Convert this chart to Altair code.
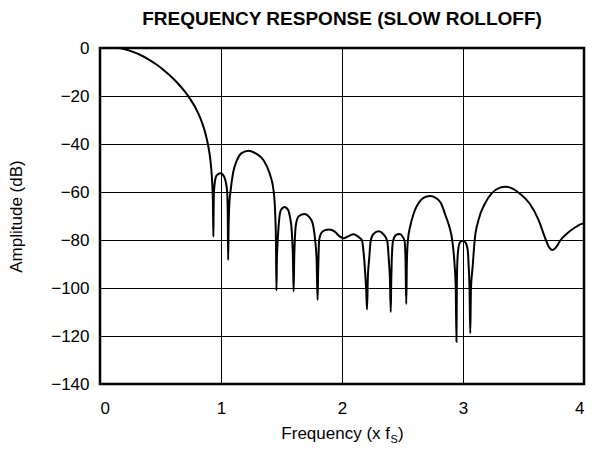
import altair as alt
import pandas as pd

# Frequency (x fS) and amplitude (dB)
freq = [
    0.00, 0.10, 0.15, 0.20, 0.26, 0.33, 0.40, 0.47, 0.54, 0.60, 0.65, 0.70, 0.75, 0.79, 0.83, 0.86, 0.885, 0.905, 0.918, 0.927, 0.933, 0.937,
    0.939, 0.942, 0.950, 0.965, 0.996, 1.025, 1.040, 1.051, 1.056, 1.059,
    1.063, 1.070, 1.078, 1.100, 1.132, 1.170, 1.228, 1.290, 1.350, 1.400, 1.436, 1.447, 1.454, 1.458,
    1.462, 1.469, 1.478, 1.495, 1.526, 1.555, 1.572, 1.581, 1.589, 1.595, 1.600,
    1.605, 1.610, 1.621, 1.645, 1.689, 1.730, 1.757, 1.778, 1.790, 1.798,
    1.803, 1.806, 1.811, 1.830, 1.860, 1.893, 1.940, 1.980, 2.015, 2.050, 2.096, 2.130, 2.164, 2.180, 2.192, 2.201, 2.207,
    2.214, 2.224, 2.237, 2.260, 2.303, 2.340, 2.374, 2.387, 2.396, 2.403,
    2.407, 2.411, 2.422, 2.445, 2.477, 2.500, 2.517, 2.525, 2.531,
    2.536, 2.544, 2.565, 2.593, 2.653, 2.700, 2.729, 2.770, 2.816, 2.857, 2.890, 2.911, 2.930, 2.940, 2.946,
    2.949, 2.952, 2.960, 2.975, 3.000, 3.020, 3.039, 3.047, 3.054, 3.060,
    3.066, 3.080, 3.096, 3.128, 3.183, 3.237, 3.300, 3.354, 3.410, 3.468, 3.549, 3.625, 3.685, 3.715, 3.740,
    3.770, 3.807, 3.862, 3.929, 3.970, 4.000,
]
amp = [
    0.0, 0.0, 0.0, -0.4, -1.4, -2.8, -4.7, -7.0, -9.8, -12.5, -15.1, -18.1, -21.6, -25.0, -29.3, -33.6, -38.5, -43.9, -49.5, -56.0, -64.0, -78.6,
    -68.0, -60.0, -55.5, -53.0, -52.2, -53.5, -56.0, -60.0, -70.0, -88.3,
    -74.0, -64.0, -60.0, -52.0, -46.7, -43.8, -42.8, -44.0, -46.7, -52.0, -60.0, -68.0, -80.0, -101.0,
    -88.0, -80.0, -73.0, -67.5, -66.2, -67.5, -71.0, -74.0, -80.0, -88.0, -101.5,
    -88.0, -80.0, -73.0, -70.0, -69.2, -70.5, -73.0, -80.0, -88.0, -105.0,
    -93.0, -87.0, -80.0, -77.0, -75.9, -75.6, -76.5, -78.5, -79.3, -78.5, -77.6, -78.5, -80.0, -86.0, -94.0, -102.0, -109.0,
    -95.0, -88.3, -80.4, -77.5, -76.4, -77.5, -80.4, -88.3, -96.0, -110.0,
    -97.0, -88.3, -80.4, -78.0, -77.5, -78.5, -80.4, -88.3, -106.7,
    -90.0, -80.4, -74.0, -68.9, -63.3, -61.9, -61.7, -62.3, -64.5, -70.0, -75.0, -80.0, -90.0, -100.0, -122.4,
    -100.0, -91.0, -84.2, -81.0, -80.3, -81.0, -84.2, -91.0, -100.0, -118.9,
    -100.0, -91.0, -80.3, -71.7, -64.7, -60.6, -58.3, -57.8, -58.6, -60.6, -64.7, -71.7, -80.0, -83.3, -84.2,
    -83.0, -80.0, -77.2, -74.7, -73.5, -73.0,
]

x_ticks = [0, 1, 2, 3, 4]
y_ticks = [-140, -120, -100, -80, -60, -40, -20, 0]

df = pd.DataFrame({"freq": freq, "amp": amp})

FONT = "Liberation Sans"
W, H = 484, 336

line = alt.Chart(df).mark_line(
    color="black", strokeWidth=2, interpolate="monotone", clip=True
).encode(
    x=alt.X(
        "freq:Q",
        scale=alt.Scale(domain=[0, 4], nice=False, zero=False),
        axis=alt.Axis(values=x_ticks, format="d", title=None, labelPadding=16),
    ),
    y=alt.Y(
        "amp:Q",
        scale=alt.Scale(domain=[-140, 0], nice=False),
        axis=alt.Axis(
            values=y_ticks, format="d", title="Amplitude (dB)", labelPadding=11,
            titleX=-84, titleY=H / 2, titleAngle=-90, titleAlign="center", titleBaseline="middle",
        ),
    ),
)

xt_main = alt.Chart(pd.DataFrame({"t": ["Frequency (x f"]})).mark_text(
    font=FONT, fontSize=17, align="right", baseline="alphabetic", color="black"
).encode(text="t:N", x=alt.value(W / 2 + 48), y=alt.value(H + 55))

xt_sub = alt.Chart(pd.DataFrame({"t": ["S"]})).mark_text(
    font=FONT, fontSize=11, align="left", baseline="alphabetic", color="black"
).encode(text="t:N", x=alt.value(W / 2 + 48.5), y=alt.value(H + 59))

xt_close = alt.Chart(pd.DataFrame({"t": [")"]})).mark_text(
    font=FONT, fontSize=17, align="left", baseline="alphabetic", color="black"
).encode(text="t:N", x=alt.value(W / 2 + 56), y=alt.value(H + 55))

chart = alt.layer(line, xt_main, xt_sub, xt_close).properties(
    width=W,
    height=H,
    title=alt.TitleParams(
        "FREQUENCY RESPONSE (SLOW ROLLOFF)",
        font=FONT, fontSize=19, fontWeight="bold", anchor="middle",
        frame="group", offset=10, color="black",
    ),
    padding={"left": 92, "top": 40, "right": 5, "bottom": 60},
    autosize=alt.AutoSizeParams(type="none"),
).configure_view(
    stroke="black", strokeWidth=2.5
).configure_axis(
    grid=True, gridColor="black", gridWidth=1, gridOpacity=1,
    domain=False, ticks=False, tickSize=0,
    labelFont=FONT, labelFontSize=17, labelColor="black",
    titleFont=FONT, titleFontSize=17, titleColor="black", titleFontWeight="normal",
)

chart.save("out.html", embed_options={"renderer": "svg", "actions": False})
